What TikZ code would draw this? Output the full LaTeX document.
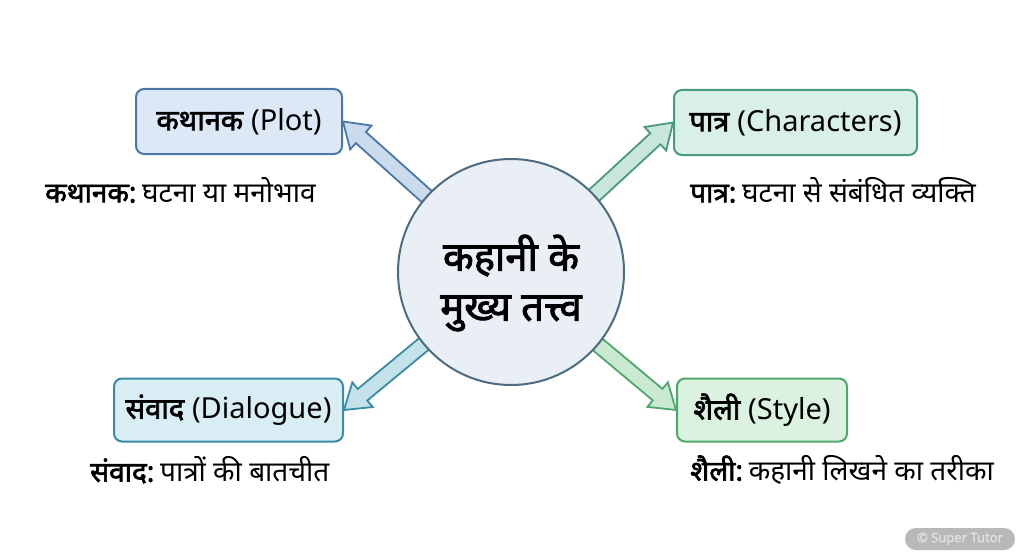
\documentclass[tikz,border=0pt]{standalone}
\usepackage{fontspec}
\setmainfont{Noto Sans}[Script=Devanagari,BoldFont={Noto Sans},BoldFeatures={FakeBold=2.2}]
\usepackage{tikz}
\usetikzlibrary{calc,positioning}
\definecolor{plotfill}{HTML}{DCE8F6}
\definecolor{plotline}{HTML}{4A78A6}
\definecolor{charfill}{HTML}{D9F0E6}
\definecolor{charline}{HTML}{4A9A80}
\definecolor{dialfill}{HTML}{D8EEF4}
\definecolor{dialline}{HTML}{3A8BA4}
\definecolor{stylefill}{HTML}{DAF2DF}
\definecolor{styleline}{HTML}{4EA86C}
\definecolor{hubfill}{HTML}{E9EFF5}
\definecolor{hubline}{HTML}{4F6B80}
\tikzset{
    catbox/.style={draw=#1line,fill=#1fill,line width=2pt,rounded corners=8pt,minimum height=65pt,font=\fontsize{29}{34}\selectfont},
    hubnode/.style={circle,draw=hubline,fill=hubfill,line width=2pt,minimum size=226pt},
    hubtext/.style={align=center,font=\bfseries\fontsize{40}{50}\selectfont},
    descnode/.style={anchor=west,inner sep=0pt,font=\fontsize{28}{32}\selectfont},
    fatarr/.style={draw=#1line,fill=#1fill!88!#1line,line width=1.8pt,line join=miter},
    every node/.style={text=black}
}
\newcommand{\fatarrow}[3]{%
  \coordinate (fa-b) at ($(#2)!24pt!(#1)$);
  \draw[fatarr=#3] ($(#1)!7.5pt!90:(#2)$) -- ($(fa-b)!7.5pt!90:(#2)$) -- ($(fa-b)!16pt!90:(#2)$)
    -- (#2) -- ($(fa-b)!16pt!-90:(#2)$) -- ($(fa-b)!7.5pt!-90:(#2)$) -- ($(#1)!7.5pt!-90:(#2)$) -- cycle;
}
\newcommand{\lead}[1]{\textbf{#1:}\kern-1.5pt\ }
\begin{document}
\begin{tikzpicture}[x=1pt,y=-1pt]
  \useasboundingbox[fill=white] (0,0) rectangle (1024,559);
  \coordinate (hubc) at (511,272);
  \node[catbox=plot,minimum width=206pt] (plot) at (239,121.5) {\textbf{कथानक} (Plot)};
  \node[catbox=char,minimum width=243pt] (chars) at (795.5,122.5) {\textbf{पात्र} (Characters)};
  \node[catbox=dial,minimum width=229pt,minimum height=63pt] (dial) at (228.5,410) {\textbf{संवाद} (Dialogue)};
  \node[catbox=style,minimum width=170pt,minimum height=63pt] (style) at (762,410) {\textbf{शैली} (Style)};
  \fatarrow{hubc}{plot.east}{plot}
  \fatarrow{hubc}{chars.west}{char}
  \fatarrow{hubc}{dial.east}{dial}
  \fatarrow{hubc}{style.west}{style}
  \node[hubnode] (hub) at (hubc) {};
  \node[hubtext] (hubtxt) at ([yshift=-11pt]hub.center) {कहानी के\\मुख्य तत्त्व};
  \node[descnode] (plotdesc) at (45,190) {\lead{कथानक}घटना या मनोभाव};
  \node[descnode] (charsdesc) at (690,190) {\lead{पात्र}घटना से संबंधित व्यक्ति};
  \node[descnode] (dialdesc) at (90,470) {\lead{संवाद}पात्रों की बातचीत};
  \node[descnode] (styledesc) at (690,470) {\lead{शैली}कहानी लिखने का तरीका};
  \node[fill=black!28,text=white!88!black,rounded corners=11pt,minimum width=110pt,minimum height=22pt,inner sep=0pt,font=\bfseries\fontsize{13}{15}\selectfont] (mark) at (960,539) {© Super Tutor};
\end{tikzpicture}
\end{document}
